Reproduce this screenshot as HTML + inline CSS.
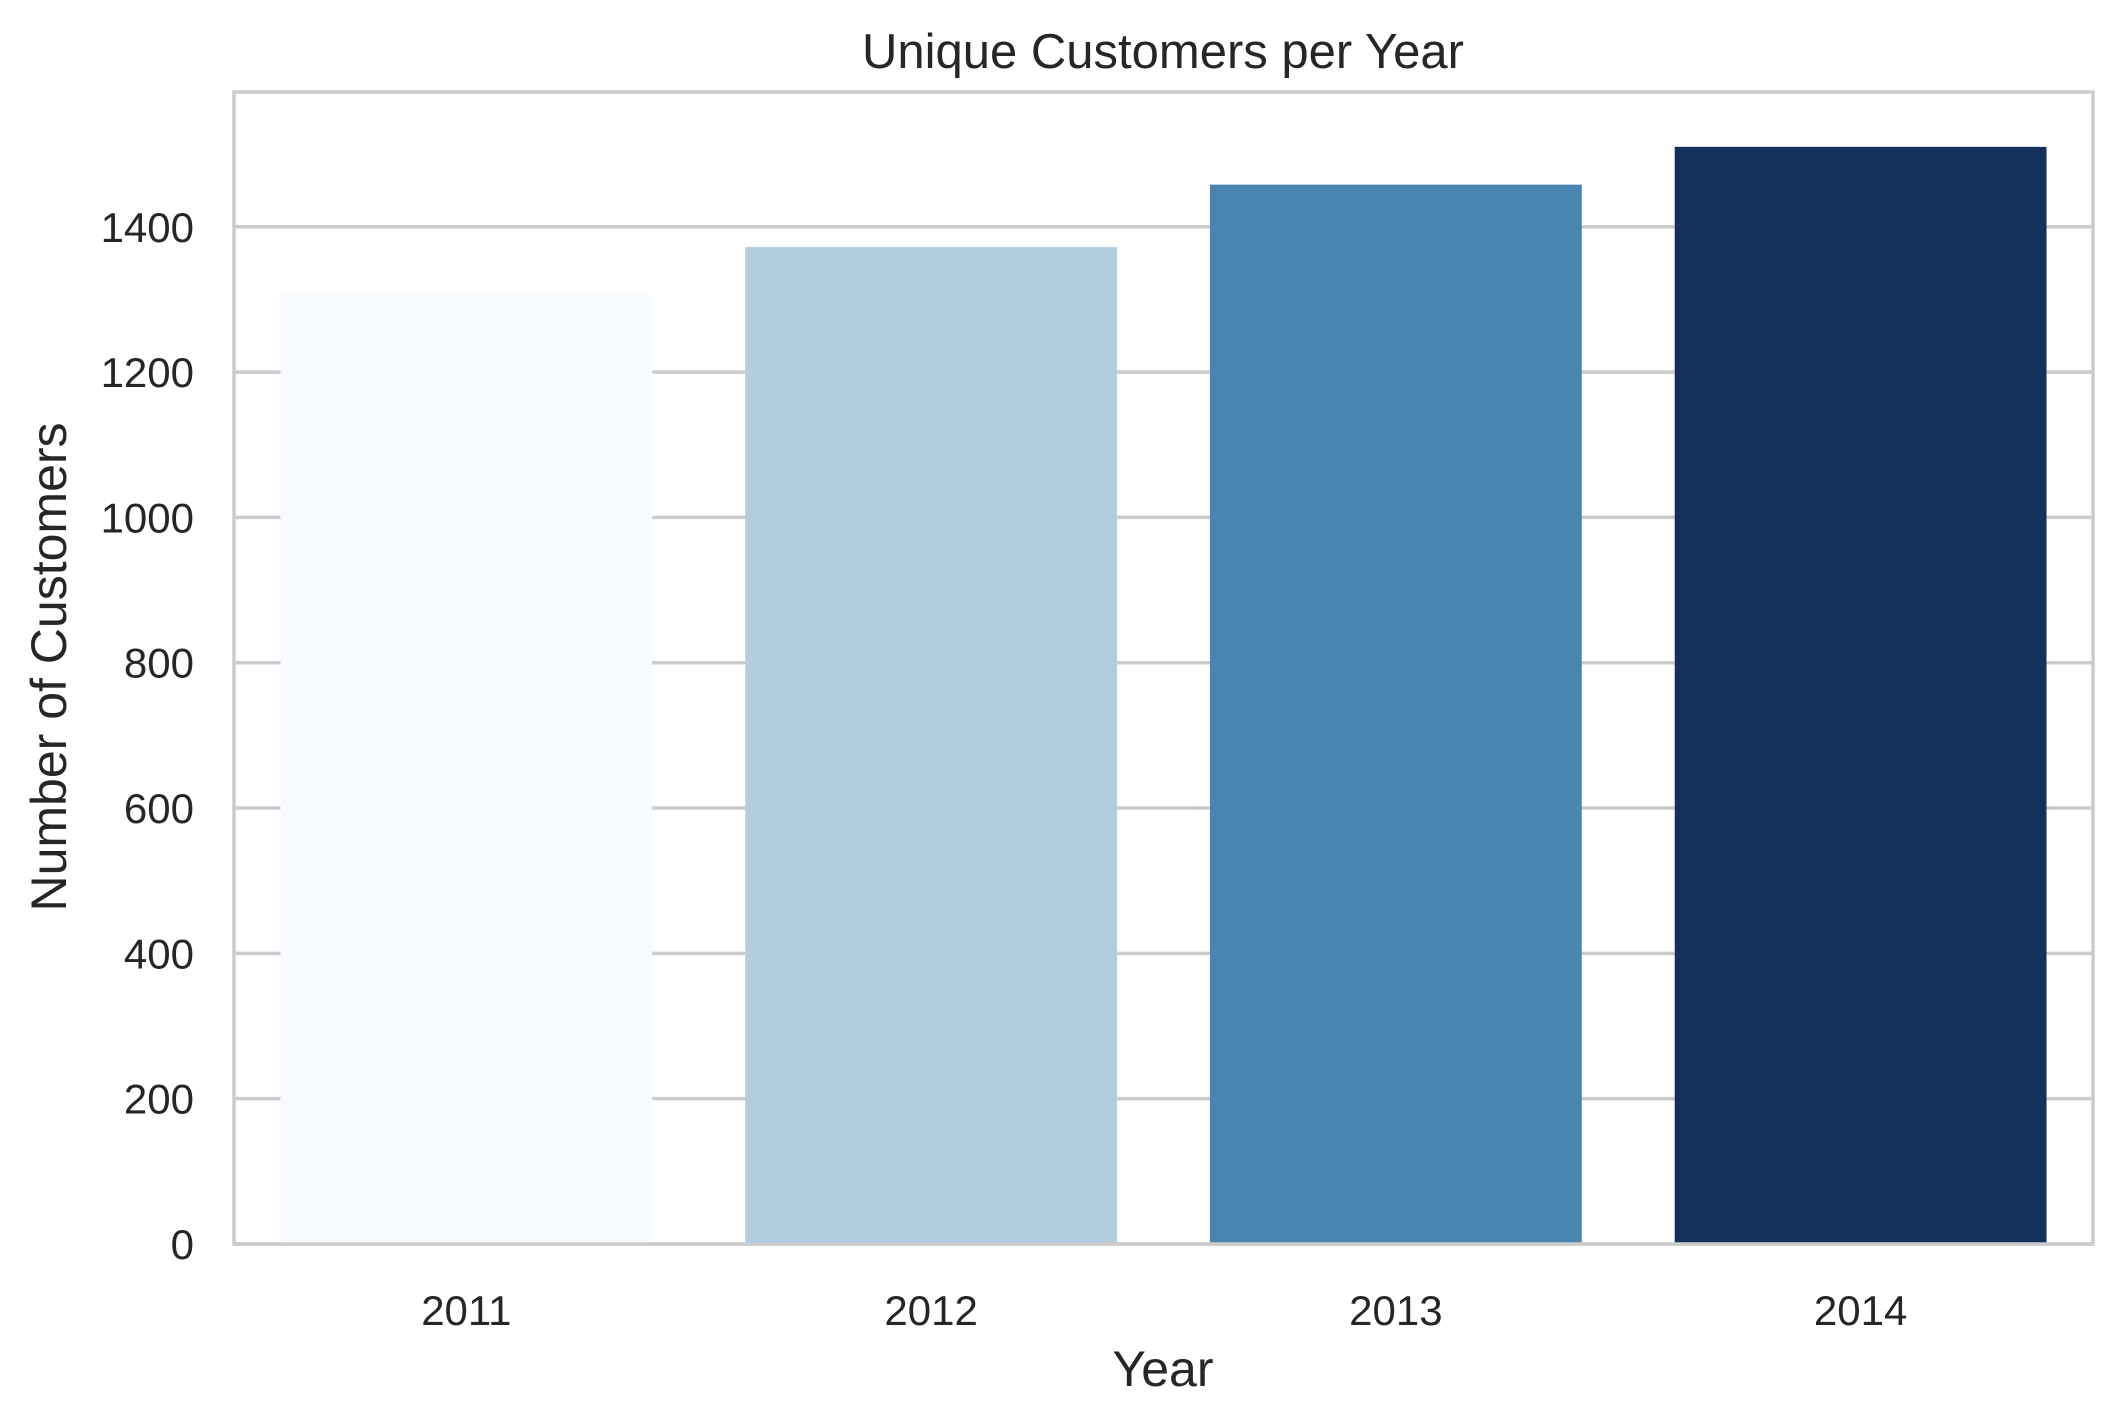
<!DOCTYPE html>
<html><head><meta charset="utf-8"><style>
html,body{margin:0;padding:0;background:#fff;}
svg{display:block;font-family:"Liberation Sans",Arial,sans-serif;}
</style></head><body>
<svg id="chart" width="2124" height="1421" viewBox="0 0 2124 1421">
<text x="1163" y="68" font-size="49" fill="#262626" text-anchor="middle">Unique Customers per Year</text>
<g id="grid"></g>
<g id="bars"></g>
<rect x="234" y="92" width="1859" height="1152" fill="none" stroke="#cccccc" stroke-width="3.5"/>
<g id="yticks"></g>
<g id="xticks"></g>
<text x="1163" y="1386" font-size="50" fill="#262626" text-anchor="middle">Year</text>
<text transform="translate(66,667) rotate(-90)" font-size="50" fill="#262626" text-anchor="middle">Number of Customers</text>
</svg>
<script>
const categories = ["2011","2012","2013","2014"];
const values = [1308, 1372, 1458, 1510];
const colors = ["#f7fbff","#b3cde0","#4a84b0","#14305d"];
const yTicks = [0,200,400,600,800,1000,1200,1400];
const NS="http://www.w3.org/2000/svg";
const L=234,R=2093,T=92,B=1244;
const yMax=Math.max(...values)*1.05;
const y=v=>B-(v/yMax)*(B-T);
const band=(R-L)/categories.length;
const xc=i=>L+band*(i+0.5);
const grid=document.getElementById('grid'),bars=document.getElementById('bars'),yt=document.getElementById('yticks'),xt=document.getElementById('xticks');
yTicks.forEach(t=>{
  const ln=document.createElementNS(NS,'line');
  ln.setAttribute('x1',L);ln.setAttribute('x2',R);ln.setAttribute('y1',y(t));ln.setAttribute('y2',y(t));
  ln.setAttribute('stroke','#cccccc');ln.setAttribute('stroke-width','3.5');
  
  
  grid.appendChild(ln);
  const tx=document.createElementNS(NS,'text');
  tx.setAttribute('x',194);tx.setAttribute('y',y(t)+15);tx.setAttribute('font-size','42');tx.setAttribute('fill','#262626');tx.setAttribute('text-anchor','end');
  tx.textContent=t;
  
  
  yt.appendChild(tx);
});
categories.forEach((c,i)=>{
  const w=band*0.8;
  const r=document.createElementNS(NS,'rect');
  r.setAttribute('x',xc(i)-w/2);r.setAttribute('width',w);r.setAttribute('y',y(values[i]));r.setAttribute('height',B-y(values[i]));
  r.setAttribute('fill',colors[i]);
  
  
  bars.appendChild(r);
  const tx=document.createElementNS(NS,'text');
  tx.setAttribute('x',xc(i));tx.setAttribute('y',1325);tx.setAttribute('font-size','42');tx.setAttribute('fill','#262626');tx.setAttribute('text-anchor','middle');
  tx.textContent=c;
  
  
  xt.appendChild(tx);
});
</script>
</body></html>
